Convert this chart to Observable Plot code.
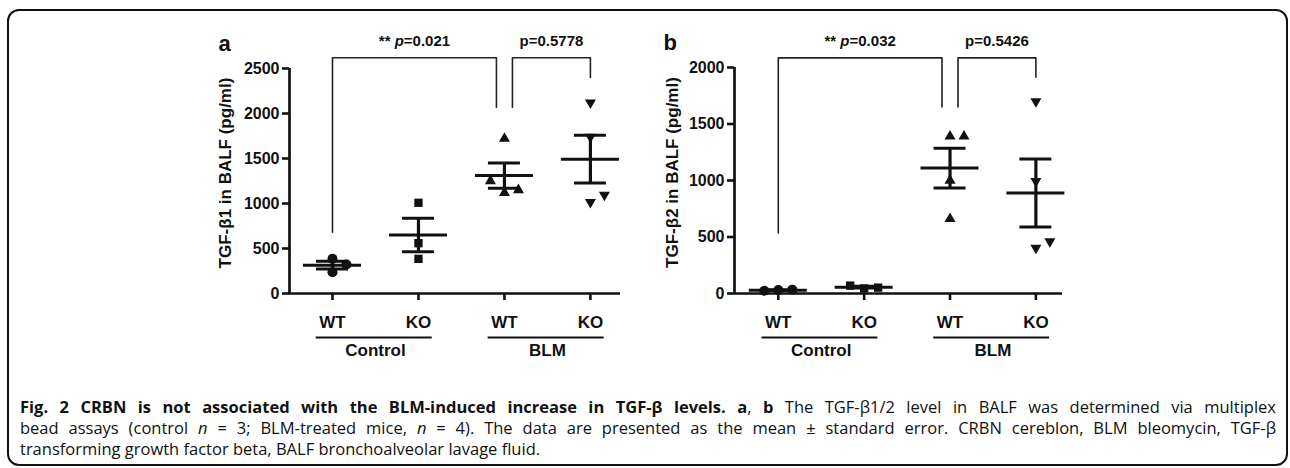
<!DOCTYPE html>
<html><head><meta charset="utf-8">
<script src="https://cdn.jsdelivr.net/npm/d3@7"></script>
<script src="https://cdn.jsdelivr.net/npm/@observablehq/plot@0.6"></script>
<style>
html,body{margin:0;padding:0;background:#fff;}
body{width:1290px;height:468px;position:relative;overflow:hidden;}
#frame{position:absolute;left:7px;top:9px;width:1281px;height:457px;box-sizing:border-box;border:2.5px solid #111;border-radius:12px;}
.panel{position:absolute;top:15px;}
#pa{left:140px}
#pb{left:590px}
.panel svg{overflow:visible;}
#caption{position:absolute;left:20px;top:396px;width:1256px;font-family:'Open Sans',sans-serif;font-size:16.5px;line-height:21px;color:#111;}
#caption .j{text-align:justify;text-align-last:justify;}
#caption .l{white-space:nowrap;}
</style></head><body>
<div id="frame"></div>
<div id="pa" class="panel"></div>
<div id="pb" class="panel"></div>
<div id="caption">
<div class="j"><b>Fig. 2 CRBN is not associated with the BLM-induced increase in TGF-β levels. a</b>, <b>b</b> The TGF-β1/2 level in BALF was determined via multiplex</div>
<div class="j">bead assays (control <i>n</i> = 3; BLM-treated mice, <i>n</i> = 4). The data are presented as the mean ± standard error. CRBN cereblon, BLM bleomycin, TGF-β</div>
<div class="l">transforming growth factor beta, BALF bronchoalveolar lavage fluid.</div>
</div>
<script>
// ---- data ----
const categories = ["WT", "KO", "WT", "KO"];
const groups = ["Control", "BLM"];
// TGF-β1 (panel a), pg/ml
const b1CtrlWT = [385, 237, 322];
const b1CtrlKO = [1008, 559, 385];
const b1BlmWT = [1722, 1120, 1150, 1250];
const b1BlmKO = [2120, 1740, 1015, 1095];
// TGF-β2 (panel b), pg/ml
const b2CtrlWT = [30, 34, 25];
const b2CtrlKO = [45, 52, 70];
const b2BlmWT = [1000, 660, 1390, 1390];
const b2BlmKO = [1700, 995, 404, 461];
const yTicksA = [0, 500, 1000, 1500, 2000, 2500];
const yTicksB = [0, 500, 1000, 1500, 2000];
const bracketsA = [
  {from: 0, to: 2, top: 2620, leftEnd: 680, rightEnd: 2070, label: "** p=0.021"},
  {from: 2, to: 3, top: 2620, leftEnd: 2070, rightEnd: 2400, label: "p=0.5778"}
];
const bracketsB = [
  {from: 0, to: 2, top: 2085, leftEnd: 536, rightEnd: 1650, label: "** p=0.032"},
  {from: 2, to: 3, top: 2085, leftEnd: 1650, rightEnd: 1914, label: "p=0.5426"}
];

// ---- helpers ----
const triangleDown = {
  draw(context, size) {
    const s3 = Math.sqrt(3);
    const y = -Math.sqrt(size / (s3 * 3));
    context.moveTo(0, -y * 2);
    context.lineTo(-s3 * y, y);
    context.lineTo(s3 * y, y);
    context.closePath();
  }
};
const symbols = ["circle", "square", "triangle", triangleDown];
const symbolR = [5, 4.7, 4.1, 4.1];

function stats(values) {
  return {mean: d3.mean(values), se: d3.deviation(values) / Math.sqrt(values.length)};
}

function makePanel(cfg) {
  const {sets, yTicks, brackets, letter, title, xDomain, plotW, plotH,
         marginLeft, marginTop, marginBottom, marginRight, titleDx} = cfg;
  const step = plotW / (xDomain[1] - xDomain[0]);
  const px = p => p / step;
  const yMax = yTicks[yTicks.length - 1];
  const yPx = d3.scaleLinear([0, yMax], [plotH, 0]);
  const dodgeStep = 14, hit = 13;
  const points = [], summ = [];
  sets.forEach((vals, i) => {
    const placed = [];
    vals.forEach(v => {
      const py = yPx(v);
      for (const k of [0, 1, -1, 2, -2, 3, -3]) {
        const ox = k * dodgeStep;
        if (!placed.some(q => Math.abs(q.py - py) < hit && Math.abs(q.ox - ox) < hit)) {
          placed.push({py, ox});
          points.push({x: i + px(ox), y: v, g: i});
          break;
        }
      }
    });
    summ.push({i, ...stats(vals)});
  });
  const legGap = 8;
  const bracketPts = [];
  const bLabels = [];
  brackets.forEach((b, j) => {
    const lOff = brackets.some(o => o.to === b.from) ? px(legGap) : 0;
    const rOff = brackets.some(o => o.from === b.to) ? -px(legGap) : 0;
    const xl = b.from + lOff, xr = b.to + rOff;
    bracketPts.push({j, x: xl, y: b.leftEnd}, {j, x: xl, y: b.top}, {j, x: xr, y: b.top}, {j, x: xr, y: b.rightEnd});
    bLabels.push({x: (xl + xr) / 2, y: b.top, label: b.label});
  });
  const groupLines = groups.map((g, k) => ({x1: 2 * k - 0.19, x2: 2 * k + 1.16}));
  const caps = summ.flatMap(d => [{i: d.i, v: d.mean - d.se}, {i: d.i, v: d.mean + d.se}]);
  const ink = "#111";
  const plot = Plot.plot({
    width: marginLeft + plotW + marginRight,
    height: marginTop + plotH + marginBottom,
    marginLeft, marginRight, marginTop, marginBottom,
    x: {domain: xDomain},
    y: {domain: [0, yMax]},
    style: {fontFamily: "'Liberation Sans', Arial, sans-serif", fontWeight: "bold", color: ink, background: "transparent", overflow: "visible"},
    marks: [
      Plot.axisY({ticks: yTicks, tickFormat: d => String(d), tickSize: 7, tickPadding: 3, fontSize: 16, strokeWidth: 2.6, label: null}),
      Plot.axisX({ticks: d3.range(categories.length), tickFormat: i => categories[i], tickSize: 7, tickPadding: 15, fontSize: 17, strokeWidth: 2.6, label: null}),
      Plot.ruleY([0], {x1: xDomain[0], x2: xDomain[1], strokeWidth: 2.7, stroke: ink}),
      Plot.ruleX([xDomain[0]], {y1: 0, y2: yMax, strokeWidth: 2.7, stroke: ink}),
      Plot.ruleY(groupLines, {x1: "x1", x2: "x2", y: 0, dy: 44, strokeWidth: 1.8, stroke: ink}),
      Plot.text(groups, {x: (d, k) => 2 * k + 0.5, frameAnchor: "bottom", dy: 62, fontSize: 17, fill: ink}),
      Plot.ruleY(summ, {y: "mean", x1: d => d.i - px(29), x2: d => d.i + px(29), strokeWidth: 3, stroke: ink}),
      Plot.ruleX(summ, {x: "i", y1: d => d.mean - d.se, y2: d => d.mean + d.se, strokeWidth: 3.2, stroke: ink}),
      Plot.ruleY(caps, {y: "v", x1: d => d.i - px(16), x2: d => d.i + px(16), strokeWidth: 3, stroke: ink}),
      ...sets.map((_, i) => Plot.dot(points.filter(p => p.g === i), {x: "x", y: "y", symbol: symbols[i], r: symbolR[i], fill: ink, stroke: "none"})),
      Plot.line(bracketPts, {x: "x", y: "y", z: "j", strokeWidth: 1.6, stroke: "#222"}),
      Plot.text(bLabels, {x: "x", y: "y", dy: -17, text: "label", fontSize: 15, fill: ink}),
      Plot.text([letter], {frameAnchor: "top-left", dx: -71, dy: -33, fontSize: 22, textAnchor: "start", fill: ink}),
      Plot.text([title], {frameAnchor: "left", rotate: -90, dx: titleDx, dy: -8, textAnchor: "middle", fontSize: 17, fill: ink})
    ]
  });
  d3.select(plot).selectAll("text").each(function () {
    const t = this.textContent;
    const m = /^(\*\* )p(=.*)$/.exec(t);
    if (m && this.children.length === 0) {
      const s = d3.select(this);
      s.text(null);
      s.append("tspan").text(m[1]);
      s.append("tspan").attr("font-style", "italic").text("p");
      s.append("tspan").text(m[2]);
    }
  });
  return plot;
}

document.getElementById("pa").append(makePanel({
  sets: [b1CtrlWT, b1CtrlKO, b1BlmWT, b1BlmKO], yTicks: yTicksA, brackets: bracketsA,
  letter: "a", title: "TGF-β1 in BALF (pg/ml)",
  xDomain: [-0.5, 3.35], plotW: 331, plotH: 225,
  marginLeft: 149, marginTop: 53, marginBottom: 82, marginRight: 20, titleDx: -64
}));
document.getElementById("pb").append(makePanel({
  sets: [b2CtrlWT, b2CtrlKO, b2BlmWT, b2BlmKO], yTicks: yTicksB, brackets: bracketsB,
  letter: "b", title: "TGF-β2 in BALF (pg/ml)",
  xDomain: [-0.51, 3.31], plotW: 328, plotH: 226,
  marginLeft: 144, marginTop: 52, marginBottom: 82, marginRight: 20, titleDx: -62
}));
</script>
</body></html>
